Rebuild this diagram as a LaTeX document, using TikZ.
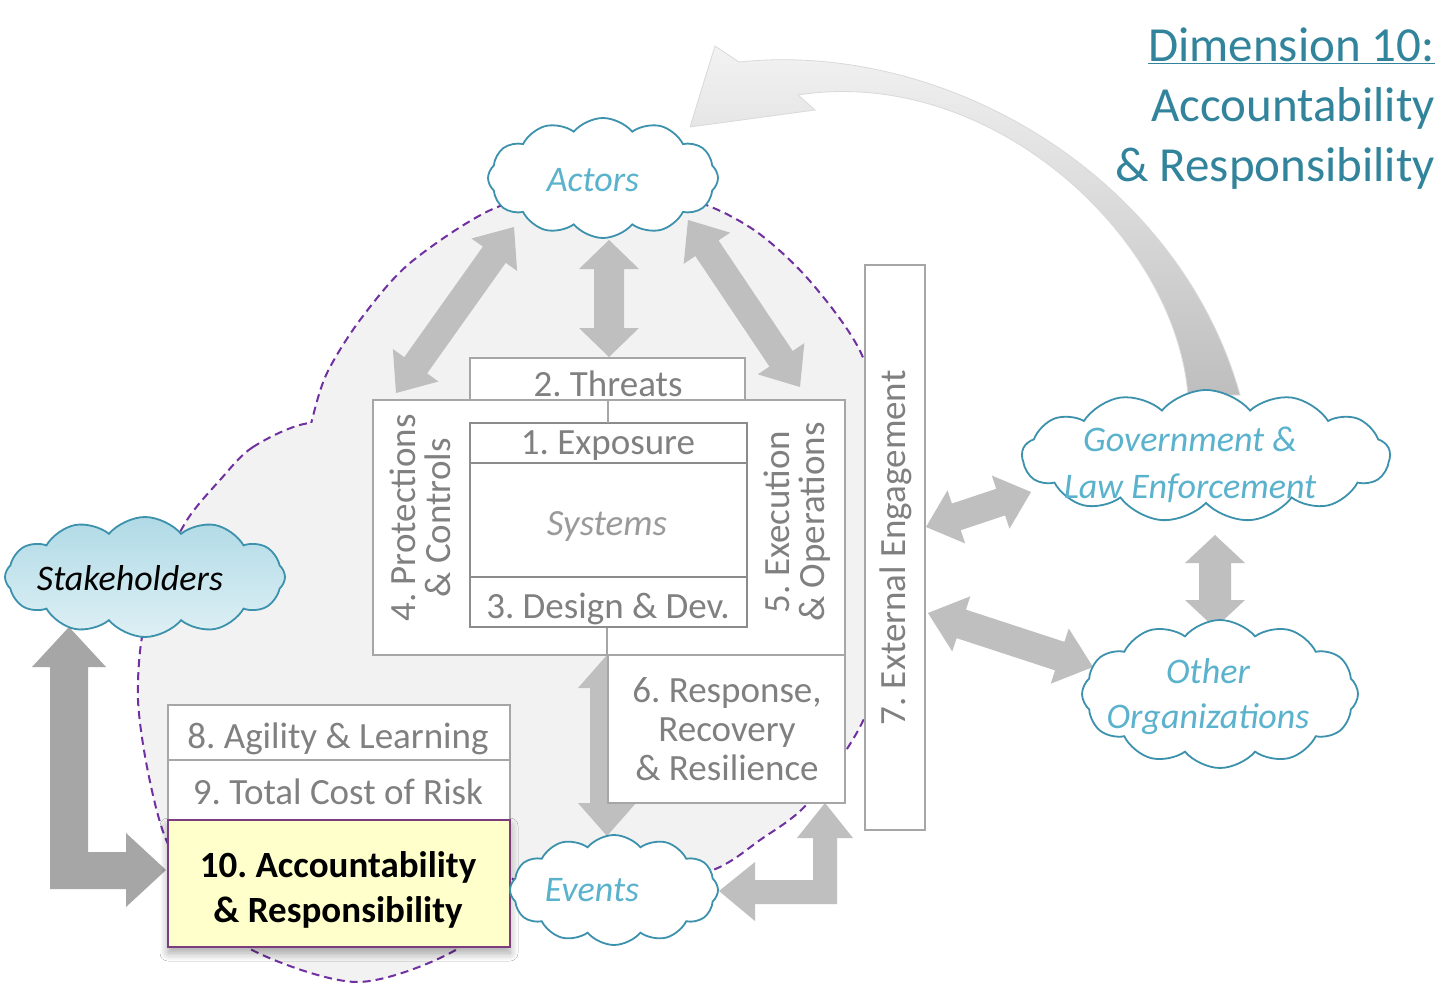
\documentclass[tikz,border=0pt]{standalone}
\usepackage{fontspec}
\setmainfont{Carlito}
\usetikzlibrary{calc,shapes.symbols,shadows.blur}
\frenchspacing
\definecolor{boxline}{RGB}{166,166,166}
\definecolor{boxtext}{RGB}{128,128,128}
\definecolor{innerline}{RGB}{140,140,140}
\definecolor{blobfill}{RGB}{242,242,242}
\definecolor{dashpurple}{RGB}{112,48,160}
\definecolor{arrowgray}{RGB}{191,191,191}
\definecolor{darkarrow}{RGB}{166,166,166}
\definecolor{cloudline}{RGB}{60,145,172}
\definecolor{cloudtext}{RGB}{90,178,204}
\definecolor{titleteal}{RGB}{49,132,155}
\definecolor{accfill}{RGB}{255,255,204}
\definecolor{accline}{RGB}{125,60,125}
\definecolor{stakeA}{RGB}{176,218,230}
\definecolor{stakeB}{RGB}{222,240,245}
\definecolor{bigA}{RGB}{243,243,243}
\definecolor{bigB}{RGB}{210,210,210}
\definecolor{bigC}{RGB}{190,190,190}
% #1 style, #2 end A, #3 end B, #4 half shaft, #5 half head, #6 head length
\newcommand\dblarrow[6]{%
  \fill[#1] (#2) -- ($(#2)!#6!(#3)!#5!90:(#2)$) -- ($(#2)!#6!(#3)!#4!90:(#2)$)
   -- ($(#3)!#6!(#2)!#4!-90:(#3)$) -- ($(#3)!#6!(#2)!#5!-90:(#3)$) -- (#3)
   -- ($(#3)!#6!(#2)!#5!90:(#3)$) -- ($(#3)!#6!(#2)!#4!90:(#3)$)
   -- ($(#2)!#6!(#3)!#4!-90:(#2)$) -- ($(#2)!#6!(#3)!#5!-90:(#2)$) -- cycle;}
\begin{document}
\begin{tikzpicture}[x=1pt,y=-1pt,
  plainbox/.style={draw=boxline, line width=2pt, fill=white, rectangle, inner sep=0pt},
  innerbox/.style={draw=innerline, line width=2.5pt, fill=white, rectangle, inner sep=0pt},
  boxlabel/.style={text=boxtext, font=\fontsize{37}{39}\selectfont, inner sep=0pt, anchor=base},
  puff/.style={cloud, cloud puffs=12, cloud puff arc=100, draw=cloudline, line width=1.8pt, fill=white, inner sep=0pt, aspect=2},
  cloudlabel/.style={text=cloudtext, font=\fontsize{36}{46}\selectfont\itshape, inner sep=0pt, align=center},
  dashedge/.style={draw=dashpurple, line width=2pt, dash pattern=on 8pt off 5pt},
  lightarrow/.style={fill=arrowgray},
  bigoutline/.style={insert path={plot[smooth cycle] coordinates {(297,593) (296,530) (302,470) (312,420) (327,373) (360,320) (410,263) (495,208) (592,186) (691,200) (754,230) (809,280) (861,353) (888,450) (893,545) (882,650) (862,723) (808,803) (760,840) (713,870) (620,895) (530,885) (460,850) (400,790) (345,735) (328,700) (310,650)}}},
  smalloutline/.style={insert path={plot[smooth cycle] coordinates {(310,423) (253,447) (220,480) (187,520) (160,575) (142,637) (138,700) (147,767) (165,837) (200,900) (252,950) (358,982) (459,948) (505,890) (525,780) (505,640) (450,500) (380,435)}}},
]
\useasboundingbox (0,0) rectangle (1454,987);
\fill[white] (0,0) rectangle (1454,987);

% shaded regions
\fill[blobfill, bigoutline];
\fill[blobfill, smalloutline];
\begin{scope}
  \pgfseteorule
  \clip[smalloutline] (-20,-20) -- (1480,-20) -- (1480,1010) -- (-20,1010) -- cycle;
  \path[dashedge, bigoutline];
\end{scope}
\begin{scope}
  \pgfseteorule
  \clip[bigoutline] (-20,-20) -- (-20,1010) -- (1480,1010) -- (1480,-20) -- cycle;
  \path[dashedge, smalloutline];
\end{scope}

% big curved arrow from Government to Actors
\path[top color=bigA, middle color=bigB, bottom color=bigC, draw=gray!30, line width=0.8pt]
  (690,127) -- (715,46) -- (739,62) .. controls (950,40) and (1180,180) .. (1240,395)
  -- (1188,395) .. controls (1175,235) and (990,65) .. (798,95) -- (815,110) -- cycle;

% arrow end points
\coordinate (a1a) at (514,227); \coordinate (a1b) at (396,393);
\coordinate (a2a) at (609,240); \coordinate (a2b) at (609,357);
\coordinate (a3a) at (688,220); \coordinate (a3b) at (800,387);
\coordinate (a4a) at (607,655); \coordinate (a4b) at (607,836);
\coordinate (a5a) at (926,527); \coordinate (a5b) at (1031,492);
\coordinate (a6a) at (928,613); \coordinate (a6b) at (1093,667);
\coordinate (a7a) at (1215,535); \coordinate (a7b) at (1215,628);
\dblarrow{lightarrow}{a1a}{a1b}{14pt}{28pt}{34pt}
\dblarrow{lightarrow}{a2a}{a2b}{15pt}{30pt}{29pt}
\dblarrow{lightarrow}{a3a}{a3b}{14pt}{28pt}{34pt}
\dblarrow{lightarrow}{a4a}{a4b}{17pt}{29pt}{33pt}
\dblarrow{lightarrow}{a5a}{a5b}{14pt}{28pt}{32pt}
\dblarrow{lightarrow}{a6a}{a6b}{15pt}{29pt}{35pt}
\dblarrow{lightarrow}{a7a}{a7b}{16pt}{30pt}{28pt}

% L-shaped arrow Response -> Events
\fill[arrowgray] (825,803) -- (853,838) -- (837,838) -- (837,904) -- (755,904) -- (755,921)
  -- (719,891) -- (755,862) -- (755,880) -- (813,880) -- (813,838) -- (797,838) -- cycle;
% L-shaped arrow Stakeholders <-> Accountability
\fill[darkarrow] (69,627) -- (106,667) -- (88,667) -- (88,852) -- (126,852) -- (126,833)
  -- (166,870) -- (126,907) -- (126,889) -- (50,889) -- (50,667) -- (32,667) -- cycle;

% boxes
\node[plainbox, minimum width=275pt, minimum height=42pt] (threats) at (607.5,379) {};
\node[plainbox, minimum width=472pt, minimum height=255pt] (pc) at (609,527.5) {};
\node[innerbox, minimum width=277pt, minimum height=204pt] (inner) at (608.5,525) {};
\draw[innerline, line width=2.5pt] (inner.west |- 0,463) -- (inner.east |- 0,463);
\draw[innerline, line width=2.5pt] (inner.west |- 0,577) -- (inner.east |- 0,577);
\draw[boxline, line width=2pt] (608,400) -- (608,423);
\node[plainbox, minimum width=237pt, minimum height=148pt] (resp) at (726.5,729) {};
\draw[boxline, line width=2pt] (inner.south -| resp.north west) -- (resp.north west);
\node[plainbox, minimum width=60pt, minimum height=565pt] (ext) at (895,547.5) {};
\node[plainbox, minimum width=342pt, minimum height=55pt] (agil) at (339,732.5) {};
\node[plainbox, minimum width=342pt, minimum height=60pt] (cost) at (339,790) {};
\node[draw=accline, fill=accfill, line width=2pt, rectangle, inner sep=0pt,
  minimum width=342pt, minimum height=127pt,
  blur shadow={shadow xshift=0pt, shadow yshift=-6pt, shadow blur radius=8pt, shadow blur steps=8, shadow opacity=35}] (acc) at (339,883.5) {};

% box labels
\node[boxlabel] (threatsl) at (608,396) {2. Threats};
\node[boxlabel] (expl) at (608,454) {1. Exposure};
\node[boxlabel, anchor=center, font=\fontsize{37}{39}\selectfont\itshape, text=boxtext!80] (sysl) at (607,526) {Systems};
\node[boxlabel] (desl) at (608,618) {3. Design \& Dev.};
\node[boxlabel, anchor=center, rotate=90, align=center, font=\fontsize{37}{35}\selectfont] (pcl) at (420,518) {4. Protections\\\& Controls};
\node[boxlabel, anchor=center, rotate=90, align=center, font=\fontsize{37}{35}\selectfont] (eol) at (797,522) {5. Execution\\\& Operations};
\node[boxlabel, anchor=center, align=center] (respl) at (727,729) {6. Response,\\Recovery\\\& Resilience};
\node[boxlabel, anchor=center, rotate=90] (extl) at (896,548) {7. External Engagement};
\node[boxlabel] (agill) at (338,748) {8. Agility \& Learning};
\node[boxlabel] (costl) at (338,804) {9. Total Cost of Risk};
\node[inner sep=0pt, align=center, font=\fontsize{37}{45}\selectfont\bfseries] (accl) at (338,890) {10. Accountability\\\& Responsibility};

% clouds
\node[puff, minimum width=230pt, minimum height=120pt] (actors) at (603,178) {};
\node[cloudlabel] (actorsl) at (593,180) {Actors};
\node[puff, top color=stakeA, bottom color=stakeB, minimum width=280pt, minimum height=120pt] (stake) at (145,577) {};
\node[cloudlabel, text=black] (stakel) at (130,578) {Stakeholders};
\node[puff, minimum width=208pt, minimum height=110pt] (events) at (614,890) {};
\node[cloudlabel] (eventsl) at (592,890) {Events};
\node[puff, cloud puffs=13, minimum width=368pt, minimum height=132pt] (gov) at (1206,456) {};
\node[cloudlabel, font=\fontsize{36}{47}\selectfont\itshape] (govl) at (1190,465) {Government \&\\Law Enforcement};
\node[puff, minimum width=276pt, minimum height=148pt] (other) at (1220,694) {};
\node[cloudlabel, font=\fontsize{36}{45}\selectfont\itshape] (otherl) at (1208,697) {Other\\Organizations};

% title
\node[anchor=north east, align=right, inner sep=0pt, text=titleteal, font=\fontsize{49}{60}\selectfont] (title) at (1435,28) {\underline{Dimension 10:}\\Accountability\\\& Responsibility};
\end{tikzpicture}
\end{document}
